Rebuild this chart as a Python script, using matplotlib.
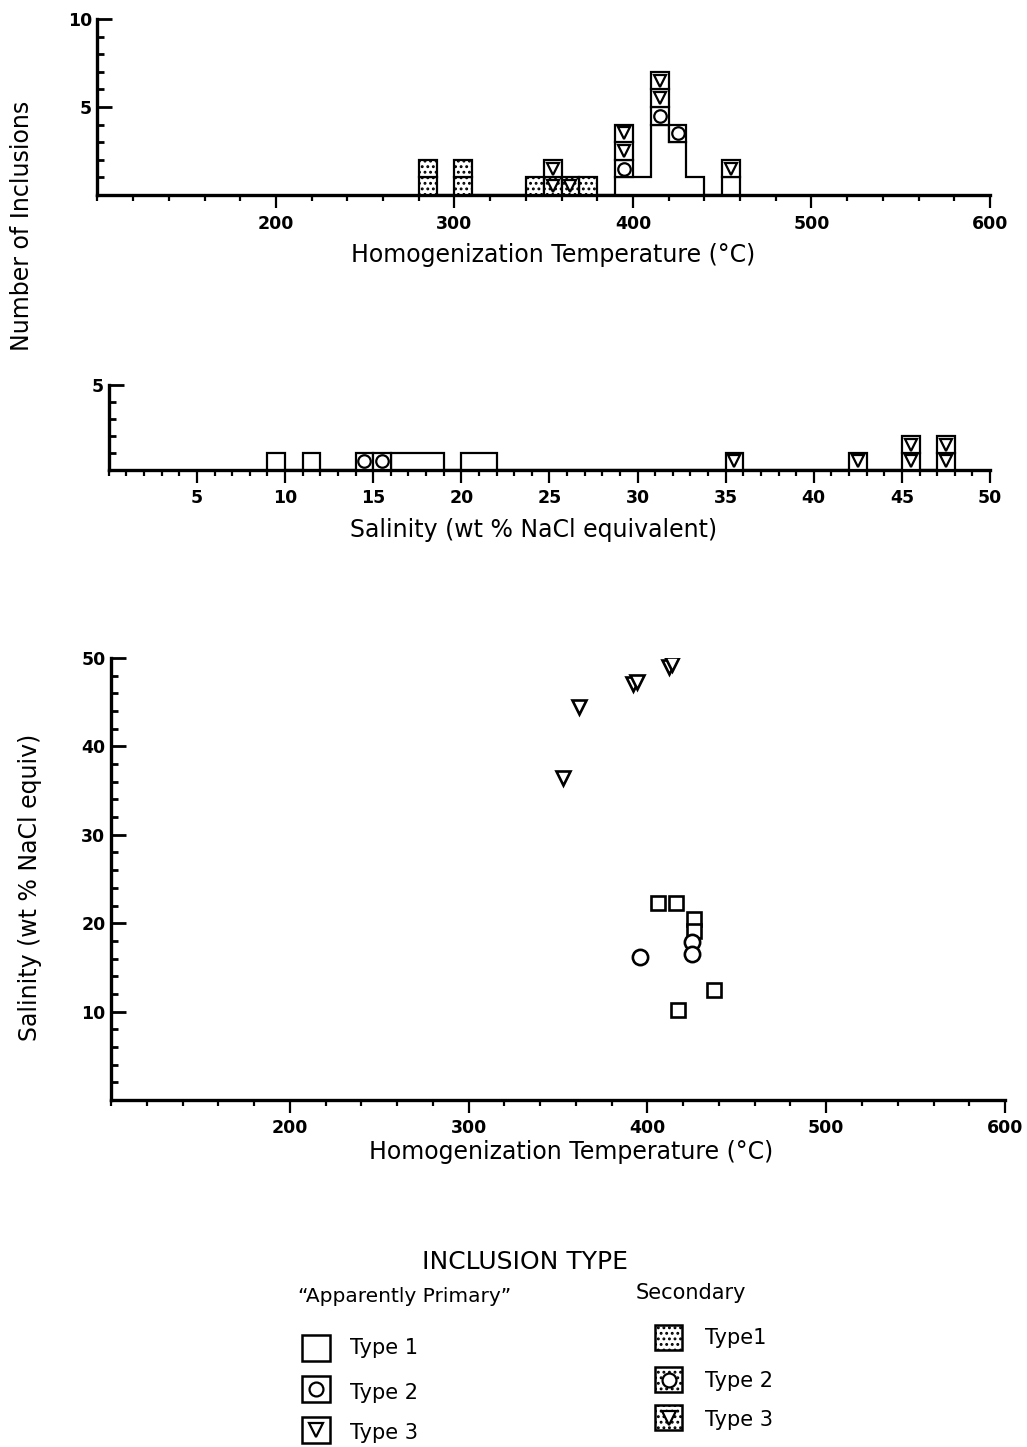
import numpy as np
import matplotlib
matplotlib.use('Agg')
import matplotlib.pyplot as plt
from matplotlib.ticker import FixedLocator, MultipleLocator
from matplotlib.patches import Rectangle

plt.rcParams['font.family'] = ['DejaVu Sans']
plt.rcParams['hatch.linewidth'] = 1.3

# ---------------- homogenization temperature histogram (10 C bins, key = bin start) ----------------
temp_p1 = {390: 1, 400: 1, 410: 4, 420: 3, 430: 1, 450: 1}   # apparently primary, type 1 (blank)
temp_s1 = {280: 2, 300: 2, 340: 1, 370: 1}                  # secondary, type 1 (dotted)
temp_s3 = {350: 1, 360: 1}                                  # secondary, type 3
temp_p2 = {390: 1, 410: 1, 420: 1}                          # primary, type 2
temp_p3 = {350: 1, 390: 2, 410: 2, 450: 1}                  # primary, type 3

# ---------------- salinity histogram (1 wt% bins) ----------------
sal_p1 = {9: 1, 11: 1, 16: 1, 17: 1, 18: 1, 20: 1, 21: 1}
sal_p2 = {14: 1, 15: 1}
sal_p3 = {35: 1, 42: 1, 45: 2, 47: 2}

# ---------------- salinity vs temperature ----------------
t1_temp = [406, 416, 426, 426, 437, 417]
t1_sal = [22.3, 22.3, 20.5, 19.1, 12.4, 10.2]
t2_temp = [396, 425, 425]
t2_sal = [16.2, 17.9, 16.5]
t3_temp = [353, 362, 392, 394, 412, 414]
t3_sal = [36.4, 44.5, 47.0, 47.3, 49.0, 49.3]

LW = 1.6


def stack_cells(ax, level, counts, width, marker=None, dotted=False, ms=8):
    # one boxed cell per inclusion, piled on top of what is already in the bin
    for x0, n in counts.items():
        for k in range(n):
            y0 = level.get(x0, 0)
            ax.bar(x0, 1, width=width, bottom=y0, align='edge', facecolor='white',
                   edgecolor='k', linewidth=LW, hatch='...' if dotted else None, zorder=3)
            if marker:
                ax.plot(x0 + width / 2, y0 + 0.5, marker=marker, ms=ms, mfc='white',
                        mec='k', mew=1.6, zorder=4, linestyle='none')
            level[x0] = y0 + 1


def style(ax):
    for side in ['top', 'right']:
        ax.spines[side].set_visible(False)
    for side in ['left', 'bottom']:
        ax.spines[side].set_linewidth(2.4)
    ax.set_facecolor('none')
    ax.tick_params(axis='y', which='both', direction='in', width=2, labelsize=12.5, pad=4)
    ax.tick_params(axis='y', which='major', length=11)
    ax.tick_params(axis='y', which='minor', length=5)
    ax.tick_params(axis='x', which='both', direction='out', width=1.6, labelsize=12.5)
    ax.tick_params(axis='x', which='major', length=9, pad=5)
    ax.tick_params(axis='x', which='minor', length=4)
    for t in ax.get_xticklabels() + ax.get_yticklabels():
        t.set_fontweight('bold')


fig = plt.figure(figsize=(10.27, 14.47), dpi=100)

# overlay in pixel coordinates for labels and the legend
ov = fig.add_axes([0, 0, 1, 1], zorder=0)
ov.set_xlim(0, 1027)
ov.set_ylim(1447, 0)
ov.axis('off')

# ---------------- top: temperature histogram ----------------
ax1 = fig.add_axes([0.0949, 0.8652, 0.869, 0.1216], zorder=1)
edges = np.arange(280, 470, 10)
base = np.array([temp_p1.get(s, 0) for s in edges[:-1]], float)
ax1.stairs(base, edges, baseline=0, color='k', linewidth=LW, zorder=3)
level = dict(temp_p1)
stack_cells(ax1, level, temp_s1, 10, dotted=True)
stack_cells(ax1, level, temp_s3, 10, marker='v', dotted=True)
stack_cells(ax1, level, temp_p2, 10, marker='o', ms=9)
stack_cells(ax1, level, temp_p3, 10, marker='v')
ax1.set_xlim(100, 600)
ax1.set_ylim(0, 10)
ax1.xaxis.set_major_locator(FixedLocator([200, 300, 400, 500, 600]))
ax1.xaxis.set_minor_locator(MultipleLocator(20))
ax1.yaxis.set_major_locator(FixedLocator([5, 10]))
ax1.yaxis.set_minor_locator(MultipleLocator(1))
style(ax1)

# ---------------- middle: salinity histogram ----------------
ax2 = fig.add_axes([0.106, 0.6752, 0.858, 0.0587], zorder=1)
sedges = np.arange(9, 49, 1)
sbase = np.array([sal_p1.get(s, 0) for s in sedges[:-1]], float)
ax2.stairs(sbase, sedges, baseline=0, color='k', linewidth=LW, zorder=3)
slevel = dict(sal_p1)
stack_cells(ax2, slevel, sal_p2, 1, marker='o', ms=9)
stack_cells(ax2, slevel, sal_p3, 1, marker='v')
ax2.set_xlim(0, 50)
ax2.set_ylim(0, 5)
ax2.xaxis.set_major_locator(FixedLocator([5, 10, 15, 20, 25, 30, 35, 40, 45, 50]))
ax2.xaxis.set_minor_locator(MultipleLocator(1))
ax2.yaxis.set_major_locator(FixedLocator([5]))
ax2.yaxis.set_minor_locator(MultipleLocator(1))
style(ax2)

# ---------------- bottom: salinity vs temperature ----------------
ax3 = fig.add_axes([0.1081, 0.2398, 0.8705, 0.3055], zorder=1)
ax3.plot(t1_temp, t1_sal, 's', ms=10, mfc='white', mec='k', mew=1.9, linestyle='none')
ax3.plot(t2_temp, t2_sal, 'o', ms=11, mfc='white', mec='k', mew=1.9, linestyle='none')
ax3.plot(t3_temp, t3_sal, 'v', ms=10.5, mfc='white', mec='k', mew=1.9, linestyle='none')
ax3.set_xlim(100, 600)
ax3.set_ylim(0, 50)
ax3.xaxis.set_major_locator(FixedLocator([200, 300, 400, 500, 600]))
ax3.xaxis.set_minor_locator(MultipleLocator(20))
ax3.yaxis.set_major_locator(FixedLocator([10, 20, 30, 40, 50]))
ax3.yaxis.set_minor_locator(MultipleLocator(2))
style(ax3)

# ---------------- axis titles ----------------
ov.text(553, 255, 'Homogenization Temperature (°C)', fontsize=17, ha='center', va='center')
ov.text(534, 530, 'Salinity (wt % NaCl equivalent)', fontsize=17, ha='center', va='center')
ov.text(571, 1152, 'Homogenization Temperature (°C)', fontsize=17, ha='center', va='center')
ov.text(22, 226, 'Number of Inclusions', fontsize=17, rotation=90, ha='center', va='center')
ov.text(30, 887, 'Salinity (wt % NaCl equiv)', fontsize=17, rotation=90, ha='center', va='center')

# ---------------- legend ----------------
ov.text(525, 1262, 'INCLUSION TYPE', fontsize=18, ha='center', va='center')
ov.text(298, 1297, '“Apparently Primary”', fontsize=14.5, ha='left', va='center')
ov.text(636, 1293, 'Secondary', fontsize=15, ha='left', va='center')

prim = [(1335, None, 'Type 1', 1348), (1376, 'o', 'Type 2', 1393), (1417, 'v', 'Type 3', 1433)]
for y0, mk, lab, ty in prim:
    ov.add_patch(Rectangle((302, y0), 28, 26, facecolor='white', edgecolor='k', linewidth=1.8))
    if mk:
        ov.plot(316, y0 + 13, marker=mk, ms=10, mfc='white', mec='k', mew=1.6)
    ov.text(350, ty, lab, fontsize=15, ha='left', va='center')

sec = [(1325, None, 'Type1', 1338), (1367, 'o', 'Type 2', 1381), (1405, 'v', 'Type 3', 1420)]
for y0, mk, lab, ty in sec:
    ov.add_patch(Rectangle((655, y0), 27, 25, facecolor='white', edgecolor='k',
                           linewidth=1.8, hatch='...'))
    if mk:
        ov.plot(668.5, y0 + 12.5, marker=mk, ms=10, mfc='white', mec='k', mew=1.6)
    ov.text(705, ty, lab, fontsize=15, ha='left', va='center')

fig.savefig('out.png', dpi=100)
